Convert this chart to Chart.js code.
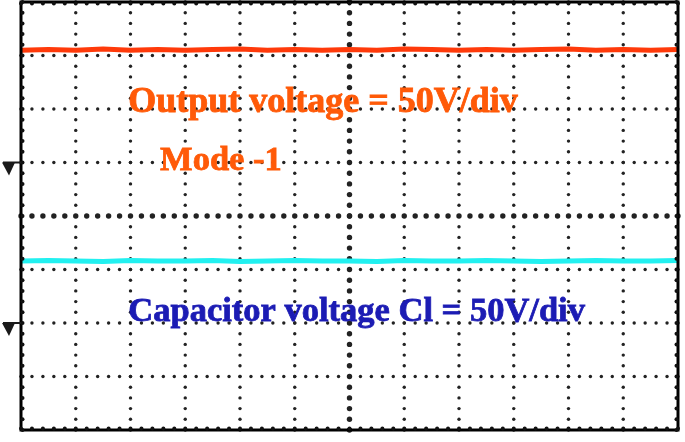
<!DOCTYPE html>
<html>
<head>
<meta charset="utf-8">
<script src="https://cdn.jsdelivr.net/npm/chart.js@4.4.1/dist/chart.umd.min.js"></script>
<style>
  html, body { margin: 0; padding: 0; background: #ffffff; }
  #wrap { width: 685px; height: 442px; }
</style>
</head>
<body>
<div id="wrap"><canvas id="c" width="685" height="442"></canvas></div>
<script>
// ---- data (divisions) ----
const timeDivs = [0, 0.5, 1, 1.5, 2, 2.5, 3, 3.5, 4, 4.5, 5, 5.5, 6, 6.5, 7, 7.5, 8, 8.5, 9, 9.5, 10, 10.5, 11, 11.5, 12];
const outputVoltage = [7.10, 7.11, 7.10, 7.12, 7.10, 7.11, 7.10, 7.11, 7.12, 7.10, 7.11, 7.10, 7.11, 7.10, 7.12, 7.11, 7.10, 7.11, 7.10, 7.11, 7.12, 7.10, 7.11, 7.10, 7.11];
const capacitorVoltage = [3.16, 3.17, 3.16, 3.15, 3.17, 3.16, 3.16, 3.17, 3.15, 3.16, 3.17, 3.16, 3.16, 3.15, 3.17, 3.16, 3.16, 3.17, 3.16, 3.15, 3.16, 3.17, 3.16, 3.16, 3.17];
const groundLevels = [5, 2];           // channel reference markers (divisions)
const xDivisions = 12;
const yDivisions = 8;
const labels = [
  { text: 'Output voltage = 50V/div', x: 1.96, y: 5.95, color: '#ff5a08', size: 36 },
  { text: 'Mode -1', x: 2.54, y: 4.86, color: '#ff5a08', size: 34.5 },
  { text: 'Capacitor voltage Cl = 50V/div', x: 1.96, y: 2.04, color: '#1c1cb4', size: 34.5 }
];

const scopeGrid = {
  id: 'scopeGrid',
  beforeDatasetsDraw(chart) {
    const { ctx, scales: { x, y } } = chart;
    const step = 0.2;
    ctx.save();
    ctx.fillStyle = '#222222';
    const dot = (px, py, r) => { ctx.beginPath(); ctx.arc(px, py, r, 0, Math.PI * 2); ctx.fill(); };
    // vertical grid lines
    for (let i = 1; i < xDivisions; i++) {
      const big = i === xDivisions / 2;
      for (let k = 0; k <= yDivisions / step + 0.01; k++) {
        dot(x.getPixelForValue(i), y.getPixelForValue(k * step), big ? 2.7 : 1.7);
      }
    }
    // horizontal grid lines
    for (let j = 1; j < yDivisions; j++) {
      const big = j === yDivisions / 2;
      for (let k = 0; k <= xDivisions / step + 0.01; k++) {
        dot(x.getPixelForValue(k * step), y.getPixelForValue(j), big ? 2.7 : 1.7);
      }
    }
    // text labels (drawn over grid)
    labels.forEach(l => {
      ctx.font = 'bold ' + l.size + 'px "Liberation Serif", "Times New Roman", serif';
      ctx.fillStyle = l.color;
      ctx.strokeStyle = l.color;
      ctx.lineWidth = 0.8;
      ctx.textBaseline = 'alphabetic';
      ctx.textAlign = 'left';
      const px = x.getPixelForValue(l.x), py = y.getPixelForValue(l.y);
      ctx.fillText(l.text, px, py);
      ctx.strokeText(l.text, px, py);
    });
    ctx.restore();
  },
  afterDatasetsDraw(chart) {
    const { ctx, chartArea: a, scales: { x, y } } = chart;
    ctx.save();
    ctx.strokeStyle = '#000000';
    ctx.lineWidth = 3;
    ctx.strokeRect(a.left, a.top, a.right - a.left, a.bottom - a.top);
    ctx.fillStyle = '#111111';
    const dot = (px, py, r) => { ctx.beginPath(); ctx.arc(px, py, r, 0, Math.PI * 2); ctx.fill(); };
    const step = 0.2;
    for (let k = 0; k <= xDivisions / step + 0.01; k++) {
      const px = x.getPixelForValue(k * step);
      dot(px, a.top + 1.5, 2);
      dot(px, a.bottom - 1.5, 2);
    }
    for (let k = 0; k <= yDivisions / step + 0.01; k++) {
      const py = y.getPixelForValue(k * step);
      dot(a.left + 1.5, py, 2);
      dot(a.right - 1.5, py, 2);
    }
    // ground reference markers
    ctx.fillStyle = '#1a1a1a';
    ctx.strokeStyle = '#1a1a1a';
    ctx.lineWidth = 2;
    groundLevels.forEach(g => {
      const py = y.getPixelForValue(g);
      ctx.beginPath();
      ctx.moveTo(a.left - 18, py);
      ctx.lineTo(a.left, py);
      ctx.stroke();
      ctx.beginPath();
      ctx.moveTo(a.left - 19, py);
      ctx.lineTo(a.left - 6, py);
      ctx.lineTo(a.left - 12, py + 13);
      ctx.closePath();
      ctx.fill();
    });
    ctx.restore();
  }
};

new Chart(document.getElementById('c'), {
  type: 'line',
  data: {
    labels: timeDivs,
    datasets: [
      {
        label: 'Output voltage',
        data: timeDivs.map((t, i) => ({ x: t, y: outputVoltage[i] })),
        borderColor: '#ff3a0a',
        borderWidth: 5,
        pointRadius: 0,
        tension: 0
      },
      {
        label: 'Capacitor voltage',
        data: timeDivs.map((t, i) => ({ x: t, y: capacitorVoltage[i] })),
        borderColor: '#22f0f0',
        borderWidth: 5,
        pointRadius: 0,
        tension: 0
      }
    ]
  },
  options: {
    responsive: false,
    animation: false,
    devicePixelRatio: 1,
    layout: { padding: { left: 21, top: 2, right: 7, bottom: 12 } },
    plugins: { legend: { display: false }, tooltip: { enabled: false } },
    scales: {
      x: { type: 'linear', min: 0, max: xDivisions, display: false },
      y: { type: 'linear', min: 0, max: yDivisions, display: false }
    }
  },
  plugins: [scopeGrid]
});
</script>
</body>
</html>
